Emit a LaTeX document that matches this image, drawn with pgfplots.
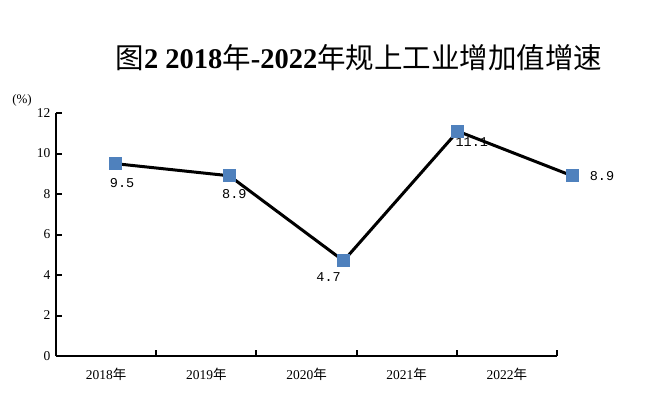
\documentclass[border=0pt]{standalone}
\usepackage{fontspec}
\usepackage{pgfplots}
\pgfplotsset{compat=1.18}
\setmainfont{Liberation Serif}
\newfontfamily\cjk{Noto Sans CJK SC}
\newfontfamily\monof{Liberation Mono}
\definecolor{mk}{RGB}{79,129,189}
\begin{document}
\begin{tikzpicture}
\useasboundingbox (0,0) rectangle (647pt,-393pt);
\begin{axis}[
  at={(56pt,-356pt)}, anchor=south west,
  scale only axis, width=501pt, height=243pt,
  xmin=0, xmax=5, ymin=0, ymax=12,
  axis lines=left, axis line style={line width=2.6pt, -},
  clip=false,
  xtick={0,1,2,3,4,5}, xticklabels={},
  extra x ticks={0.5,1.5,2.5,3.5,4.5},
  extra x tick labels={2018{\cjk 年},2019{\cjk 年},2020{\cjk 年},2021{\cjk 年},2022{\cjk 年}},
  extra x tick style={major tick length=0pt, xticklabel style={yshift=-9pt}},
  ytick={0,2,4,6,8,10,12},
  tick style={line width=2pt, black},
  major tick length=6pt,
  tick align=inside,
  /pgf/number format/assume math mode=true,
  tick label style={font=\fontsize{13.5}{15}\selectfont},
  yticklabel style={xshift=-2pt},
]
\addplot[black, line width=3pt, mark=square*, mark size=6pt,
  mark options={draw=mk, fill=mk, line width=0pt}]
  coordinates {(0.59,9.5) (1.73,8.9) (2.87,4.7) (4.01,11.1) (5.15,8.9)};
\begin{scope}[every node/.style={font=\monof\fontsize{13.5}{15}\selectfont, inner sep=0pt}]
\node at (axis cs:0.59,9.5) [xshift=7pt, yshift=-19pt] {9.5};
\node at (axis cs:1.73,8.9) [xshift=5pt, yshift=-18pt] {8.9};
\node at (axis cs:2.87,4.7) [xshift=-15pt, yshift=-16pt] {4.7};
\node at (axis cs:4.01,11.1) [xshift=14pt, yshift=-11pt] {11.1};
\node at (axis cs:5.15,8.9) [xshift=30pt, yshift=0pt] {8.9};
\end{scope}
\end{axis}
\node[font=\fontsize{13}{15}\selectfont] at (22pt,-100pt) {(\%)};
\node[font=\fontsize{28.5}{32}\selectfont] at (359pt,-58pt)
  {{\cjk 图}\textbf{2 2018}{\cjk 年}\textbf{-2022}{\cjk 年}{\cjk 规上工业增加值增速}};
\end{tikzpicture}
\end{document}
